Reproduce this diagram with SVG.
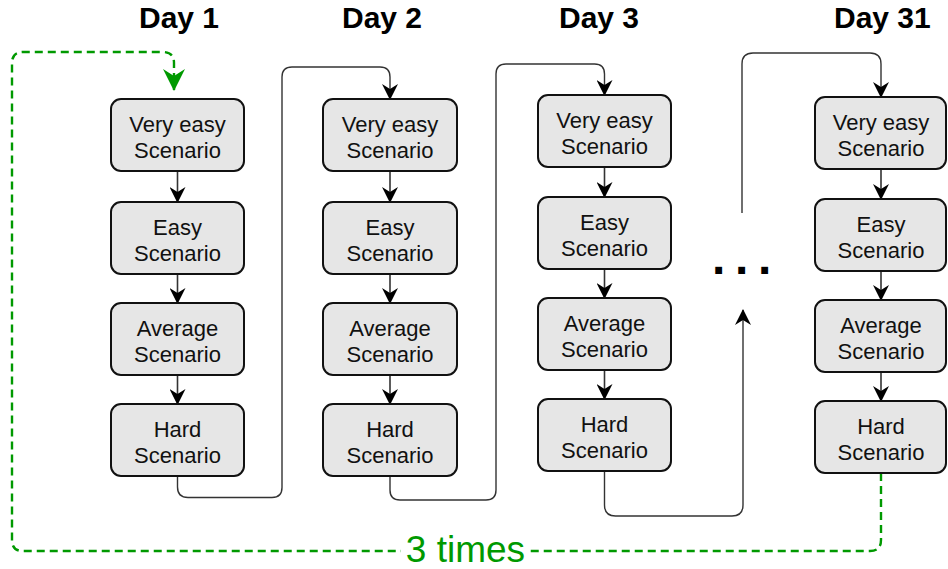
<svg xmlns="http://www.w3.org/2000/svg" width="948" height="569" viewBox="0 0 948 569">
<style>
.box{fill:#e6e6e6;stroke:#111;stroke-width:2}
.lbl{font-family:"Liberation Sans",Arial,sans-serif;font-size:22px;fill:#111;text-anchor:middle}
.day{font-family:"Liberation Sans",Arial,sans-serif;font-size:30px;font-weight:bold;fill:#000}
.ln{fill:none;stroke:#333;stroke-width:1.6}
.lnk{fill:none;stroke:#333;stroke-width:1.4}
.gr{fill:none;stroke:#009900;stroke-width:2.4;stroke-dasharray:8 5}
</style>
<defs>
<marker id="ab" viewBox="0 0 16 16" markerWidth="16" markerHeight="16" refX="15" refY="8" orient="auto" markerUnits="userSpaceOnUse">
<path d="M0,0 L16,8 L0,16 L5,8 Z" fill="#000"/>
</marker>
<marker id="ag" viewBox="0 0 22 22" markerWidth="22" markerHeight="22" refX="21" refY="11" orient="auto" markerUnits="userSpaceOnUse">
<path d="M0,0 L22,11 L0,22 L7,11 Z" fill="#009900"/>
</marker>
</defs>

<g id="titles">
<text class="day" x="139" y="28">Day 1</text>
<text class="day" x="342" y="28">Day 2</text>
<text class="day" x="559" y="28">Day 3</text>
<text class="day" x="834" y="28">Day 31</text>
</g>

<g id="connectors">
<path class="ln" d="M177.5,171 V202" marker-end="url(#ab)"/>
<path class="ln" d="M177.5,274 V303" marker-end="url(#ab)"/>
<path class="ln" d="M177.5,375 V404" marker-end="url(#ab)"/>
<path class="ln" d="M390,171 V202" marker-end="url(#ab)"/>
<path class="ln" d="M390,274 V303" marker-end="url(#ab)"/>
<path class="ln" d="M390,375 V404" marker-end="url(#ab)"/>
<path class="ln" d="M604.5,167 V197" marker-end="url(#ab)"/>
<path class="ln" d="M604.5,269 V298" marker-end="url(#ab)"/>
<path class="ln" d="M604.5,370 V399" marker-end="url(#ab)"/>
<path class="ln" d="M881,169 V199" marker-end="url(#ab)"/>
<path class="ln" d="M881,271 V300" marker-end="url(#ab)"/>
<path class="ln" d="M881,372 V401" marker-end="url(#ab)"/>
<path class="lnk" d="M177.5,476 V487 Q177.5,497.5 188,497.5 H272 Q282,497.5 282,487.5 V77 Q282,67 292,67 H380 Q390,67 390,77 V99" marker-end="url(#ab)"/>
<path class="lnk" d="M390,476 V490 Q390,500 400,500 H486 Q496,500 496,490 V74 Q496,64 506,64 H594.5 Q604.5,64 604.5,74 V95" marker-end="url(#ab)"/>
<path class="lnk" d="M604.5,471 V505 Q604.5,516 615.5,516 H732 Q743,516 743,505 V310" marker-end="url(#ab)"/>
<path class="lnk" d="M742,213 V64 Q742,53 753,53 H870 Q881,53 881,64 V97" marker-end="url(#ab)"/>
<path class="gr" d="M881,473 V540 Q881,551 870,551 H23 Q12,551 12,540 V63 Q12,52 23,52 H163 Q174,52 174,63 V90" marker-end="url(#ag)"/>
<rect x="401" y="531" width="129" height="37" fill="#fff"/>
<text x="465.5" y="562" font-family="'Liberation Sans',Arial,sans-serif" font-size="37" fill="#009900" text-anchor="middle">3 times</text>
</g>

<g id="d1-veryeasy"><rect class="box" x="111" y="99" width="133" height="72" rx="10"/><text class="lbl" x="177.5" y="132">Very easy</text><text class="lbl" x="177.5" y="158">Scenario</text></g>
<g id="d1-easy"><rect class="box" x="111" y="202" width="133" height="72" rx="10"/><text class="lbl" x="177.5" y="235">Easy</text><text class="lbl" x="177.5" y="261">Scenario</text></g>
<g id="d1-average"><rect class="box" x="111" y="303" width="133" height="72" rx="10"/><text class="lbl" x="177.5" y="336">Average</text><text class="lbl" x="177.5" y="362">Scenario</text></g>
<g id="d1-hard"><rect class="box" x="111" y="404" width="133" height="72" rx="10"/><text class="lbl" x="177.5" y="437">Hard</text><text class="lbl" x="177.5" y="463">Scenario</text></g>

<g id="d2-veryeasy"><rect class="box" x="323" y="99" width="134" height="72" rx="10"/><text class="lbl" x="390" y="132">Very easy</text><text class="lbl" x="390" y="158">Scenario</text></g>
<g id="d2-easy"><rect class="box" x="323" y="202" width="134" height="72" rx="10"/><text class="lbl" x="390" y="235">Easy</text><text class="lbl" x="390" y="261">Scenario</text></g>
<g id="d2-average"><rect class="box" x="323" y="303" width="134" height="72" rx="10"/><text class="lbl" x="390" y="336">Average</text><text class="lbl" x="390" y="362">Scenario</text></g>
<g id="d2-hard"><rect class="box" x="323" y="404" width="134" height="72" rx="10"/><text class="lbl" x="390" y="437">Hard</text><text class="lbl" x="390" y="463">Scenario</text></g>

<g id="d3-veryeasy"><rect class="box" x="538" y="95" width="133" height="72" rx="10"/><text class="lbl" x="604.5" y="128">Very easy</text><text class="lbl" x="604.5" y="154">Scenario</text></g>
<g id="d3-easy"><rect class="box" x="538" y="197" width="133" height="72" rx="10"/><text class="lbl" x="604.5" y="230">Easy</text><text class="lbl" x="604.5" y="256">Scenario</text></g>
<g id="d3-average"><rect class="box" x="538" y="298" width="133" height="72" rx="10"/><text class="lbl" x="604.5" y="331">Average</text><text class="lbl" x="604.5" y="357">Scenario</text></g>
<g id="d3-hard"><rect class="box" x="538" y="399" width="133" height="72" rx="10"/><text class="lbl" x="604.5" y="432">Hard</text><text class="lbl" x="604.5" y="458">Scenario</text></g>

<g id="d31-veryeasy"><rect class="box" x="815" y="97" width="131" height="72" rx="10"/><text class="lbl" x="881" y="130">Very easy</text><text class="lbl" x="881" y="156">Scenario</text></g>
<g id="d31-easy"><rect class="box" x="815" y="199" width="131" height="72" rx="10"/><text class="lbl" x="881" y="232">Easy</text><text class="lbl" x="881" y="258">Scenario</text></g>
<g id="d31-average"><rect class="box" x="815" y="300" width="131" height="72" rx="10"/><text class="lbl" x="881" y="333">Average</text><text class="lbl" x="881" y="359">Scenario</text></g>
<g id="d31-hard"><rect class="box" x="815" y="401" width="131" height="72" rx="10"/><text class="lbl" x="881" y="434">Hard</text><text class="lbl" x="881" y="460">Scenario</text></g>

<g id="ellipsis"><text x="712" y="274" font-family="'Liberation Sans',Arial,sans-serif" font-size="48" font-weight="bold" letter-spacing="9.7" fill="#000">...</text></g>
</svg>
